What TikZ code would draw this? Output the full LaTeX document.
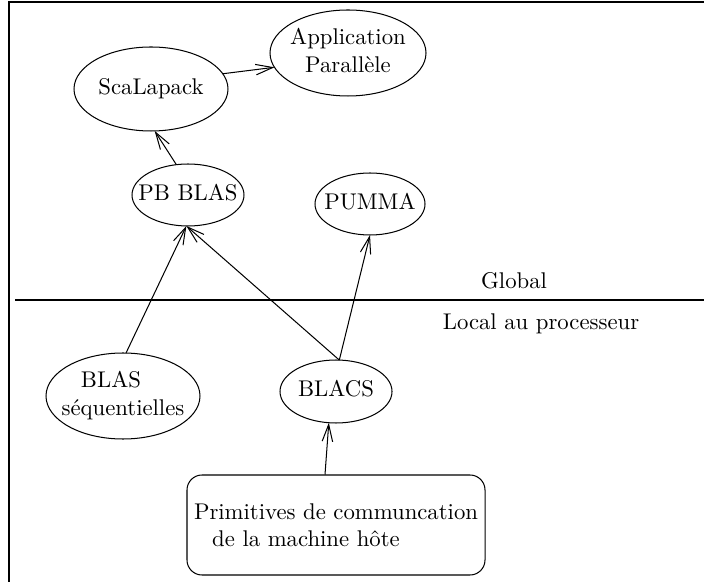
\documentclass[tikz,border=0pt]{standalone}
\usepackage{fontspec}
\usetikzlibrary{shapes.geometric,arrows.meta}
\newcommand{\zt}[1]{\makebox[0pt]{\begin{tabular}{@{}c@{}}#1\end{tabular}}}
\begin{document}
\begin{tikzpicture}[x=0.44pt,y=-0.44pt,
  line width=0.45pt,
  ell/.style={draw,ellipse,inner sep=0pt,outer sep=0pt},
  arr/.style={-{Straight Barb[length=7.5pt,width=4.6pt]}},
  lbl/.style={inner sep=0pt}]
\useasboundingbox (0,0) rectangle (704,582);
% frame
\draw[line width=0.9pt] (9,582) -- (9,2) -- (704,2);
% separator
\draw (15,300) -- (704,300);
\node[lbl] (glob) at (514,281) {Global};
\node[lbl] (loc) at (541,324) {Local au processeur};
% nodes
\node[ell,minimum width=68.64pt,minimum height=37.84pt] (app) at (348,53) {\zt{Application\\Parallèle}};
\node[ell,minimum width=67.76pt,minimum height=36.96pt] (scal) at (151,89) {\zt{ScaLapack}};
\node[ell,minimum width=49.28pt,minimum height=27.28pt] (pbblas) at (188,195) {\zt{PB BLAS}};
\node[ell,minimum width=48.4pt,minimum height=27.28pt] (pumma) at (370,204) {\zt{PUMMA}};
\node[ell,minimum width=67.76pt,minimum height=37.84pt] (blasseq) at (123,396) {\zt{BLAS\hspace*{10.6pt}\\séquentielles}};
\node[ell,minimum width=49.28pt,minimum height=27.72pt] (blacs) at (336,391.5) {\zt{BLACS}};
\node[draw,rounded corners=6.6pt,minimum width=131.12pt,minimum height=44pt,inner sep=0pt,align=left] (prim) at (336,525)
  {Primitives de communcation\\\hspace*{8pt}de la machine hôte};
% connectors
\draw[arr] (scal.12.5) -- (app.191.2);
\draw[arr] (pbblas.111) -- (scal.275.3);
\draw[arr] (blasseq.86) -- (pbblas.267);
\draw[arr] (blacs.84.6) -- (pbblas.267);
\draw[arr] (blacs.84.6) -- (pumma.270);
\draw[arr] ([xshift=-4.84pt]prim.north) -- (blacs.257.5);
\end{tikzpicture}
\end{document}
